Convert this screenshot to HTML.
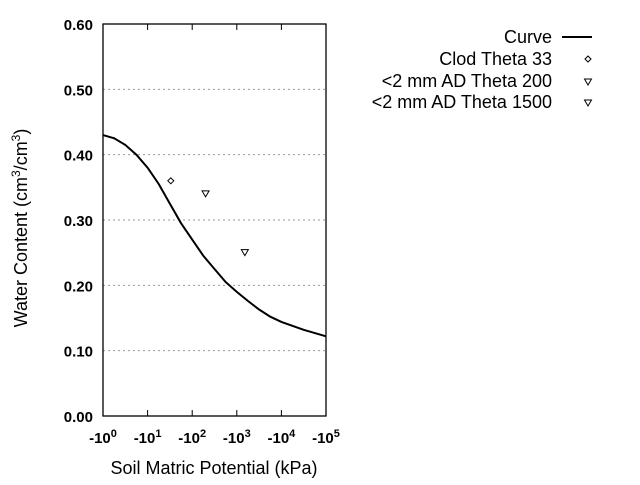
<!DOCTYPE html>
<html><head><meta charset="utf-8"><style>
body{margin:0;background:#fff;}
svg text{font-family:"Liberation Sans",sans-serif;fill:#000;}
</style></head><body>
<svg id="chart" width="640" height="480">
<g id="grid"></g>
<rect x="103" y="24" width="223" height="392" fill="none" stroke="#000" stroke-width="1.3"/>
<g id="axes"></g>
<g id="series"></g>
<text x="214" y="474" font-size="18" text-anchor="middle">Soil Matric Potential (kPa)</text>
<text transform="translate(27,228) rotate(-90)" font-size="18" text-anchor="middle">Water Content (cm<tspan dy="-7" font-size="12">3</tspan><tspan dy="7">/cm</tspan><tspan dy="-7" font-size="12">3</tspan><tspan dy="7">)</tspan></text>
<g>
<g><text x="552" y="43" font-size="18" text-anchor="end">Curve</text><line x1="562" y1="37" x2="592" y2="37" stroke="#000" stroke-width="2"/></g>
<g><text x="552" y="65" font-size="18" text-anchor="end">Clod Theta 33</text><path d="M588 56 L591 59 L588 62 L585 59 Z" fill="none" stroke="#000"/></g>
<g><text x="552" y="87" font-size="18" text-anchor="end">&lt;2 mm AD Theta 200</text><path d="M584.5 79 L591.5 79 L588 85 Z" fill="none" stroke="#000"/></g>
<g><text x="552" y="108" font-size="18" text-anchor="end">&lt;2 mm AD Theta 1500</text><path d="M584.5 100 L591.5 100 L588 106 Z" fill="none" stroke="#000"/></g>
</g>
</svg>
<script>
const curveLogK=[0,0.25,0.5,0.75,1,1.25,1.5,1.75,2,2.25,2.5,2.75,3,3.25,3.5,3.75,4,4.5,5];
const curveTheta=[0.43,0.425,0.415,0.40,0.38,0.355,0.325,0.295,0.27,0.245,0.225,0.205,0.19,0.176,0.163,0.152,0.144,0.132,0.122];
const pointLogK=[1.52,2.3,3.18];
const pointTheta=[0.36,0.34,0.25];
const pointShapes=['diamond','triangle','triangle'];
const yTicks=[0,0.1,0.2,0.3,0.4,0.5,0.6];
const xTickExps=[0,1,2,3,4,5];
const NS='http://www.w3.org/2000/svg';
const X=v=>103+v*(223/5), Y=v=>416-v*(392/0.6);
function mk(tag,attrs,parent){const e=document.createElementNS(NS,tag);for(const k in attrs)e.setAttribute(k,attrs[k]);parent.appendChild(e);return e;}
const grid=document.getElementById('grid'),axes=document.getElementById('axes'),series=document.getElementById('series');
yTicks.forEach(t=>{
 const y=Y(t);
 if(t>0&&t<0.6){const g=mk('line',{x1:103,x2:326,y1:y,y2:y,stroke:'#999','stroke-dasharray':'2,3'},grid);
 
 }
 const tl=mk('text',{x:93,y:y+6,'font-size':15,'font-weight':600,'text-anchor':'end'},axes);tl.textContent=t.toFixed(2);
 
 
});
xTickExps.forEach(e=>{
 const x=X(e);
 mk('line',{x1:x,x2:x,y1:416,y2:410,stroke:'#000'},axes);
 mk('line',{x1:x,x2:x,y1:24,y2:30,stroke:'#000'},axes);
 const tl=mk('text',{x:x,y:443,'font-size':15,'font-weight':600,'text-anchor':'middle'},axes);
 tl.innerHTML='-10<tspan dy="-6" font-size="11">'+e+'</tspan>';
 
 
});
const d=curveLogK.map((k,i)=>(i?'L':'M')+X(k).toFixed(1)+' '+Y(curveTheta[i]).toFixed(1)).join(' ');
const p=mk('path',{d:d,fill:'none',stroke:'#000','stroke-width':2},series);


pointLogK.forEach((k,i)=>{
 const x=X(k),y=Y(pointTheta[i]);
 const dd=pointShapes[i]==='diamond'?`M${x} ${y-3} L${x+3} ${y} L${x} ${y+3} L${x-3} ${y} Z`:`M${x-3.5} ${y-3} L${x+3.5} ${y-3} L${x} ${y+3} Z`;
 const m=mk('path',{d:dd,fill:'none',stroke:'#000'},series);
 
 
});
</script>
</body></html>
